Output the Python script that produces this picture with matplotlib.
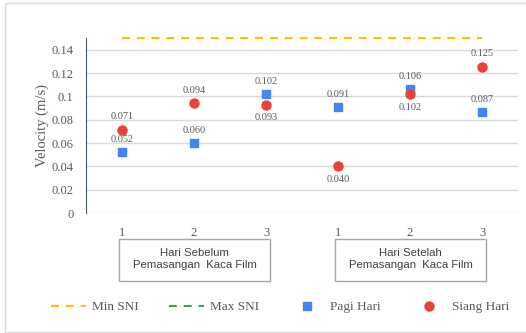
import matplotlib.pyplot as plt
from matplotlib.lines import Line2D
from matplotlib.patches import Rectangle
import matplotlib.transforms as mtransforms

# kecepatan angin (m/s) per hari
hari = ['1', '2', '3', '1', '2', '3']
pagi = [0.052, 0.060, 0.102, 0.091, 0.106, 0.087]
siang = [0.071, 0.094, 0.093, 0.040, 0.102, 0.125]
# posisi label siang: atas (+1) / bawah (-1)
siang_pos = [1, 1, -1, -1, -1, 1]
min_sni = 0.15
kelompok = ['Hari Sebelum\nPemasangan  Kaca Film',
            'Hari Setelah\nPemasangan  Kaca Film']

W, H = 526, 333
serif = 'Liberation Serif'
sans = 'Liberation Sans'
abu = '#595959'

fig = plt.figure(figsize=(W / 100, H / 100), dpi=100)
fig.patches.append(Rectangle((5 / W, 1 - 332 / H), 1, (332 - 3) / H,
                             transform=fig.transFigure, fill=False,
                             edgecolor='#D9D9D9', lw=1))

ax = fig.add_axes([86 / W, 1 - 213 / H, 432 / W, (213 - 38) / H])
x = list(range(len(hari)))

ax.set_xlim(-0.5, len(hari) - 0.5)
ax.set_ylim(0, 0.15)
ax.set_yticks([0, 0.02, 0.04, 0.06, 0.08, 0.1, 0.12, 0.14])
ax.set_yticklabels(['0', '0.02', '0.04', '0.06', '0.08', '0.1', '0.12', '0.14'],
                   fontfamily=serif, fontsize=9, color=abu)
ax.set_xticks(x)
ax.set_xticklabels(hari, fontfamily=serif, fontsize=9, color=abu)
ax.tick_params(length=0)
ax.tick_params(axis='y', pad=9)
ax.tick_params(axis='x', pad=10)
ax.grid(axis='y', color='#D9D9D9', lw=1)
ax.set_axisbelow(True)
for s in ['top', 'right', 'bottom']:
    ax.spines[s].set_visible(False)
ax.spines['left'].set_color('#44546A')
ax.set_ylabel('Velocity (m/s)', fontfamily=serif, fontsize=10.5, color=abu, labelpad=2)

oranye = '#FFC000'
hijau = '#33A852'
biru = '#4285F4'
merah = '#EA4335'

ax.plot(x, [min_sni] * len(x), color=oranye, lw=1.5, dashes=(3.8, 3.3), clip_on=False)
ax.plot(x, pagi, 's', color=biru, ms=5.2, zorder=3)
ax.plot(x, siang, 'o', color=merah, ms=6.5, zorder=4)

for xi, v in zip(x, pagi):
    ax.annotate('{:.3f}'.format(v), (xi, v), xytext=(0, 9), textcoords='offset points',
                ha='center', va='center', fontfamily=serif, fontsize=7.4, color=abu)
for xi, v, p in zip(x, siang, siang_pos):
    ax.annotate('{:.3f}'.format(v), (xi, v), xytext=(0, 9.5 * p), textcoords='offset points',
                ha='center', va='center', fontfamily=serif, fontsize=7.4, color=abu)

# kotak keterangan kelompok di bawah sumbu x
trans = mtransforms.blended_transform_factory(ax.transData, fig.transFigure)
for i, teks in enumerate(kelompok):
    x0 = 3 * i - 0.04
    x1 = 3 * i + 2 + 0.06
    fig.patches.append(Rectangle((x0, 1 - 281 / H), x1 - x0, (281 - 239) / H,
                                 transform=trans, fill=False, edgecolor='#A6A6A6', lw=1))
    fig.text((x0 + x1) / 2, 1 - 259 / H, teks, transform=trans, ha='center', va='center',
             fontfamily=sans, fontsize=8.2, color='#404040', linespacing=1.15)

handles = [
    Line2D([], [], color=oranye, lw=1.5, dashes=(3.8, 3.3)),
    Line2D([], [], color=hijau, lw=1.5, dashes=(3.8, 3.3)),
    Line2D([], [], ls='none', marker='s', color=biru, ms=5.2),
    Line2D([], [], ls='none', marker='o', color=merah, ms=6.5),
]
labels = ['Min SNI', 'Max SNI', 'Pagi Hari', 'Siang Hari']
fig.legend(handles, labels, loc='center', bbox_to_anchor=(0.532, 1 - 307 / H), ncol=4,
           frameon=False, handlelength=2.7, handletextpad=0.4, columnspacing=2.3,
           prop={'family': serif, 'size': 9.5}, labelcolor=abu)

fig.savefig('out.png', dpi=100)
